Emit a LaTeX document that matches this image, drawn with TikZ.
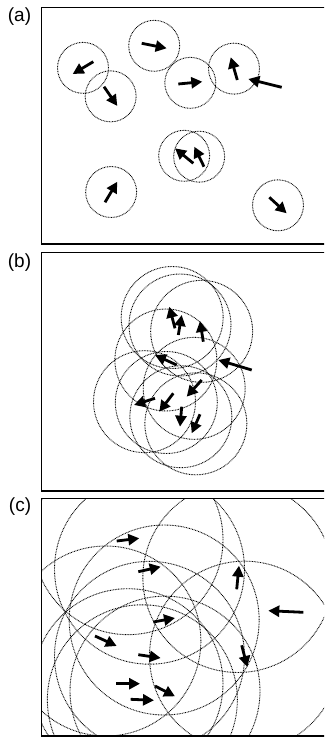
\documentclass[tikz,border=0pt]{standalone}
\usepackage{fontspec}
\usepackage{tikz}
\usetikzlibrary{arrows.meta,calc}
\newfontfamily\labelfont{Liberation Sans}

\begin{document}
\begin{tikzpicture}[x=1pt,y=-1pt,
    panel/.style={draw,line width=1.8pt},
    zone/.style={draw,line width=0.9pt,dash pattern=on 0.8pt off 0.8pt},
    heading/.style={line width=2.8pt,-{Triangle[length=11pt,width=11pt]}},
    tag/.style={font=\labelfont\fontsize{19}{19}\selectfont,inner sep=0pt}
]
\useasboundingbox (0,0) rectangle (324,738);
\clip (0,0) rectangle (324,738);

% panel labels
\node[tag] (taga) at (19.5,16.5) {(a)};
\node[tag] (tagb) at (19.5,262.5) {(b)};
\node[tag] (tagc) at (20,507) {(c)};

% (a) small radius
\begin{scope}
\clip (41.5,7.5) rectangle (340,244);
\foreach \tx/\ty/\hx/\hy in {93.3/61.7/72.7/74, 104/86.7/117.3/106, 141.7/43.3/166.7/48.3,
    178.3/84/202.3/81.7, 237.3/80/230.7/57.3, 193.3/163.3/175/148.3, 204/166.7/194.3/146.7,
    105/202.3/117.3/181.7, 269.3/197.3/286.7/213.3}{
  \draw[zone] ($(\tx,\ty)!0.5!(\hx,\hy)$) circle[radius=25.5pt];
  \draw[heading] (\tx,\ty) -- (\hx,\hy);
}
\draw[heading] (281.7,87.3) -- (248.3,79);
\end{scope}
\draw[panel] (340,7.5) -| (41.5,244) -- (340,244);

% (b) medium radius
\begin{scope}
\clip (41.5,252.5) rectangle (340,491);
\foreach \tx/\ty/\hx/\hy in {175/328.3/169.3/306.7, 178.3/335/181.7/315, 203.3/341.7/200/321,
    176.7/365/155/355, 201.7/380/186.7/396.7, 173.3/393.3/159.3/411.7, 155/398.3/134/405,
    181.7/406.7/180/426.7, 200/414.3/191.7/433.3}{
  \draw[zone] ($(\tx,\ty)!0.5!(\hx,\hy)$) circle[radius=51pt];
  \draw[heading] (\tx,\ty) -- (\hx,\hy);
}
\draw[heading] (251.7,370) -- (218.3,360);
\end{scope}
\draw[panel] (340,252.5) -| (41.5,491) -- (340,491);

% (c) large radius
\begin{scope}
\clip (41.5,498.5) rectangle (340,735.7);
\foreach \tx/\ty/\hx/\hy in {116.7/541/139.3/538.3, 138.3/571.7/160.7/566.7, 236.7/589.3/239/565.7,
    153.3/622/175/618, 95/636/116.7/646, 138.3/654.7/160.7/658, 241.7/645.3/247.3/667,
    116/683.7/140/683.7, 155/686/175/696.3, 130.7/699.3/154/700.3}{
  \draw[zone] ($(\tx,\ty)!0.5!(\hx,\hy)$) circle[radius=95pt];
  \draw[heading] (\tx,\ty) -- (\hx,\hy);
}
\draw[heading] (303.3,612.3) -- (268.3,610.7);
\end{scope}
\draw[panel] (340,498.5) -| (41.5,735.7) -- (340,735.7);
\end{tikzpicture}
\end{document}
